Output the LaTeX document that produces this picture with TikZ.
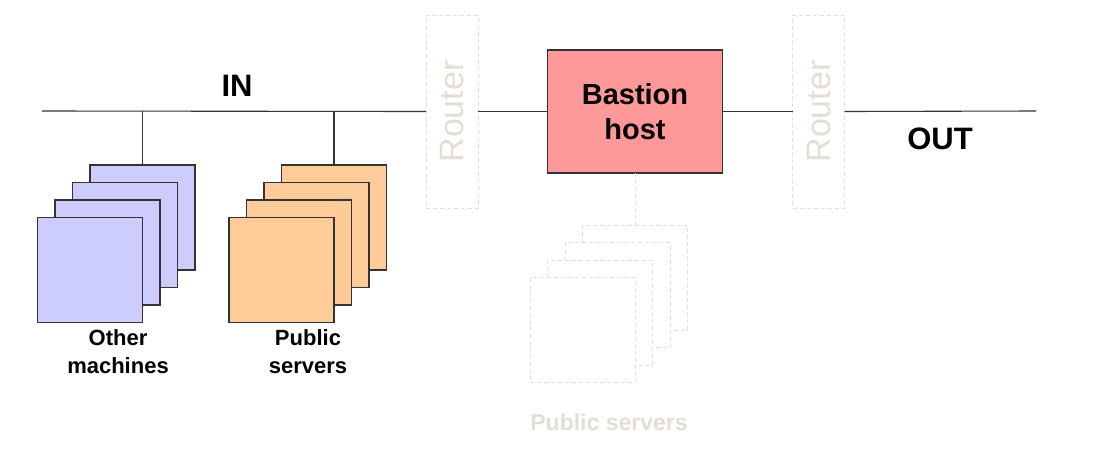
\documentclass[tikz,border=0pt]{standalone}
\usepackage{fontspec}
\setmainfont{Liberation Sans}
\definecolor{blueish}{HTML}{CCCCFF}
\definecolor{orangeish}{HTML}{FFCC99}
\definecolor{bastionred}{HTML}{FF9999}
\definecolor{faded}{HTML}{E4DED2}
\definecolor{lineg}{HTML}{333333}
\tikzset{
  sq/.style={draw=lineg, line width=1.1pt, minimum width=105pt, minimum height=105pt, inner sep=0pt, outer sep=0pt},
  bluesq/.style={sq, fill=blueish},
  orangesq/.style={sq, fill=orangeish},
  fadedsq/.style={draw=faded, line width=1pt, dash pattern=on 4pt off 3pt, fill=white, minimum width=105pt, minimum height=105pt, inner sep=0pt, outer sep=0pt},
  routerbox/.style={draw=faded, line width=1pt, dash pattern=on 4pt off 3pt, minimum width=52pt, minimum height=193pt, inner sep=0pt, outer sep=0pt, text=faded, font=\fontsize{34}{34}\selectfont},
  wire/.style={draw=lineg, line width=1.1pt},
  fadedwire/.style={draw=faded, line width=1pt, dash pattern=on 4pt off 3pt},
  lbl/.style={font=\bfseries\fontsize{22}{28}\selectfont, align=center, inner sep=0pt},
  big/.style={font=\bfseries\fontsize{31}{31}\selectfont, inner sep=0pt}
}
\begin{document}
\begin{tikzpicture}[x=1pt,y=-1pt]
\useasboundingbox (0,0) rectangle (1094,456);
% routers
\node[routerbox] (r1) at (452,111.5) {\rotatebox{90}{Router}};
\node[routerbox] (r2) at (818.5,111.5) {\rotatebox{90}{Router}};
% bastion
\node[draw=lineg, line width=1.1pt, fill=bastionred, minimum width=175pt, minimum height=123pt, inner sep=0pt, outer sep=0pt, align=center, font=\bfseries\fontsize{29}{35}\selectfont] (bastion) at (635,111.5) {Bastion\\host};
% bus
\coordinate (busL) at (42,111);
\coordinate (busR) at (1036,111);
\draw[wire] (busL) -- (r1.west);
\draw[wire] (r1.east) -- (bastion.west);
\draw[wire] (bastion.east) -- (r2.west);
\draw[wire] (r2.east) -- (busR);
% other machines
\node[bluesq] (b1) at (142.5,217.5) {};
\node[bluesq] (b2) at (125,235) {};
\node[bluesq] (b3) at (107.5,252.5) {};
\node[bluesq] (b4) at (90,270) {};
\draw[wire] (b1.north) -- (b1.north |- busL);
% public servers
\node[orangesq] (o1) at (334,217.5) {};
\node[orangesq] (o2) at (316.5,235) {};
\node[orangesq] (o3) at (299,252.5) {};
\node[orangesq] (o4) at (281.5,270) {};
\draw[wire] (o1.north) -- (o1.north |- busL);
% faded public servers
\node[fadedsq] (f1) at (635,277.5) {};
\node[fadedsq] (f2) at (617.5,295) {};
\node[fadedsq] (f3) at (600,312.5) {};
\node[fadedsq] (f4) at (582.5,330) {};
\draw[fadedwire] (bastion.south) -- (f1.north);
% labels
\node[big] (in) at (237,86) {IN};
\node[big] (out) at (940,138.5) {OUT};
\node[lbl] (lom) at (118,352) {Other\\machines};
\node[lbl] (lps) at (308,352) {Public\\servers};
\node[lbl, text=faded, font=\bfseries\fontsize{23}{28}\selectfont] (lfps) at (609,422) {Public servers};
\end{tikzpicture}
\end{document}
